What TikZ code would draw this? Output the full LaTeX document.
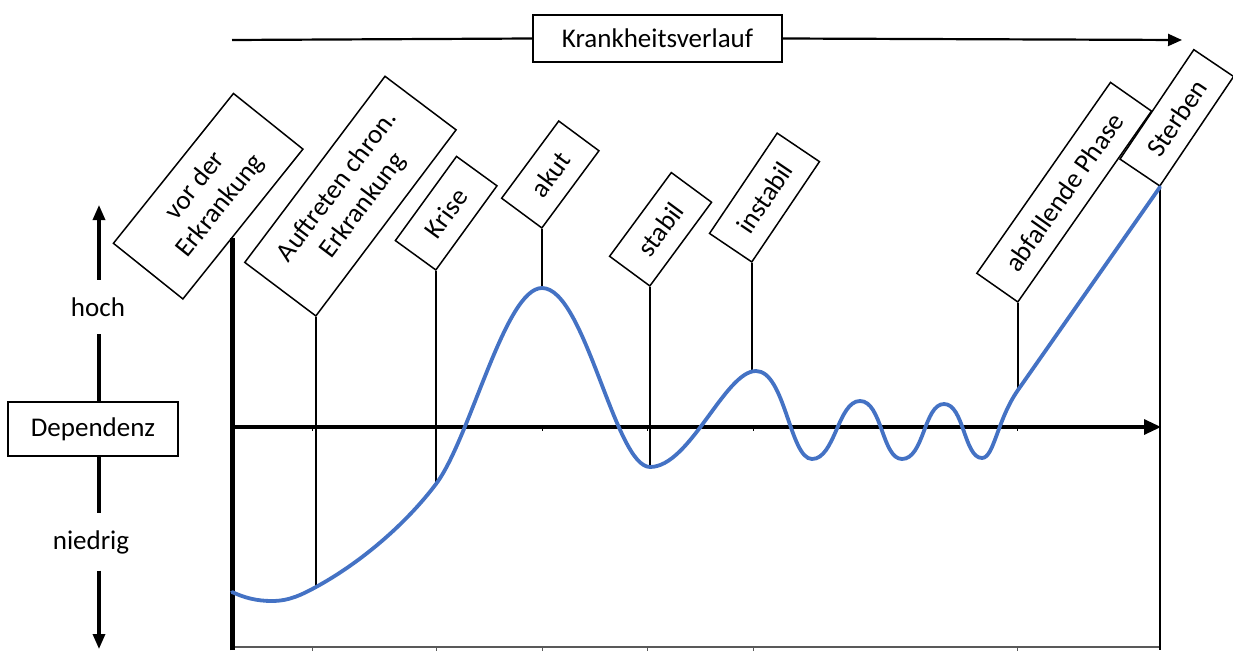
\documentclass[tikz,border=0pt]{standalone}
\usepackage{fontspec}
\setmainfont{Carlito}
\usetikzlibrary{arrows.meta,calc}
\definecolor{curveblue}{HTML}{4472C4}
\begin{document}
\begin{tikzpicture}[x=1pt,y=-1pt,
  lbl/.style={draw=black,line width=1.5pt,fill=white,inner sep=0pt,align=center,
    font=\fontsize{27}{32}\selectfont,anchor=south west},
  plain/.style={draw=black,line width=1.6pt,fill=white,inner sep=0pt,align=center,
    font=\fontsize{27}{32}\selectfont},
  word/.style={inner sep=0pt,font=\fontsize{27}{32}\selectfont},
  conn/.style={line width=1.2pt},
  bigarrow/.style={line width=3.2pt,-{Triangle[length=17pt,width=15pt]}},
  leftline/.style={line width=3.2pt},
  toparrow/.style={line width=2.2pt},
  tick/.style={line width=1pt},
  curve/.style={draw=curveblue,line width=3.8pt,line cap=round}]
\useasboundingbox (0,0) rectangle (1233,650);

% top arrow
\node[plain,minimum width=249pt,minimum height=47pt] (kv) at (657.5,38.5) {Krankheitsverlauf};
\coordinate (ta) at (232,40);
\coordinate (tb) at (1182,40);
\draw[toparrow] (ta) -- (kv.west);
\draw[toparrow,-{Triangle[length=14pt,width=12pt]}] (kv.east) -- (tb);

% left dependence scale
\node[plain,minimum width=170pt,minimum height=54pt] (dep) at (93,429) {Dependenz};
\node[word,minimum height=54pt] (hoch) at (98,307) {hoch};
\node[word,minimum height=57pt] (nied) at (91,542) {niedrig};
\coordinate (ltop) at (99,205);
\coordinate (lbot) at (99,649);
\draw[leftline,-{Triangle[length=15pt,width=12pt]}] (hoch.north -| ltop) -- (ltop);
\draw[leftline] (hoch.south -| ltop) -- (dep.north -| ltop);
\draw[leftline] (dep.south -| ltop) -- (nied.north -| ltop);
\draw[leftline,-{Triangle[length=15pt,width=12pt]}] (nied.south -| lbot) -- (lbot);

% labelled boxes
\node[lbl,rotate=51.3,minimum width=192pt,minimum height=89pt] (vor) at (183,300) {vor der\\Erkrankung};
\node[lbl,rotate=53,minimum width=233pt,minimum height=89pt] (auf) at (316,317) {Auftreten chron.\\Erkrankung};
\node[lbl,rotate=54,minimum width=104pt,minimum height=50pt] (krise) at (436,271) {Krise};
\node[lbl,rotate=53.5,minimum width=96pt,minimum height=50pt] (akut) at (542,229) {akut};
\node[lbl,rotate=53.6,minimum width=104pt,minimum height=50pt] (stabil) at (650,287) {stabil};
\node[lbl,rotate=56,minimum width=121pt,minimum height=51pt] (instabil) at (752,263) {instabil};
\node[lbl,rotate=55,minimum width=233pt,minimum height=50pt] (abf) at (1018,303) {abfallende Phase};
\node[lbl,rotate=56,minimum width=132pt,minimum height=48pt] (sterben) at (1160,187) {Sterben};

% curve knots
\coordinate (p0) at (232,592);
\coordinate (p1) at (272,601);
\coordinate (cAuf) at (316,587);
\coordinate (cKrise) at (436,484);
\coordinate (cAkut) at (542,288);
\coordinate (cStabil) at (650,467);
\coordinate (cInst) at (756,371);
\coordinate (cInstL) at (752,372);
\coordinate (cAbf) at (1018,390);
\coordinate (axtop) at ($(vor.south west)!0.41!(vor.south east)$);
\coordinate (axbot) at (232,650);
\coordinate (haxL) at (232,427);
\coordinate (haxR) at (1161,427);
\coordinate (rbot) at (1160,650);
\coordinate (bl) at (232,647);

% bottom line and ticks
\draw[draw=black!65,line width=1.3pt] (bl) -- (rbot |- bl);
\foreach \x in {312,436,542,647,753,1017}{
  \draw[tick,black!65] (\x,647) -- (\x,651);
  \draw[tick] (\x,427) -- (\x,431);
}

% connectors from boxes
\draw[conn] (auf.south west) -- (cAuf);
\draw[conn] (krise.south west) -- (cKrise);
\draw[conn] (akut.south west) -- (cAkut);
\draw[conn] (stabil.south west) -- (cStabil);
\draw[conn] (instabil.south west) -- (cInstL);
\draw[conn] (abf.south west) -- (cAbf);
\draw[conn] (sterben.south west) -- (rbot);

% axes
\draw[line width=5pt] (axtop |- axbot) -- (axtop);
\draw[bigarrow] (haxL) -- (haxR);

% curve
\draw[curve] (p0) .. controls (245,598) and (257,601) .. (p1)
  .. controls (290,601) and (303,594) .. (cAuf)
  .. controls (360,563) and (405,525) .. (cKrise)
  .. controls (470,439) and (505,288) .. (cAkut)
  .. controls (585,288) and (615,467) .. (cStabil)
  .. controls (690,467) and (725,371) .. (cInst)
  .. controls (785,371) and (790,459) .. (812,459)
  .. controls (835,459) and (838,401) .. (860,401)
  .. controls (882,401) and (882,459) .. (902,459)
  .. controls (924,459) and (924,404) .. (944,404)
  .. controls (964,404) and (964,458) .. (982,458)
  .. controls (994,458) and (997,420) .. (cAbf)
  -- (sterben.south west);
\end{tikzpicture}
\end{document}
